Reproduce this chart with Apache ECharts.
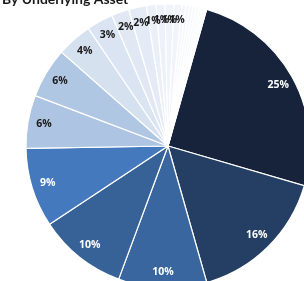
<!DOCTYPE html>
<html lang="en">
<head>
    <meta charset="UTF-8">
    <title>By Underlying Asset</title>
    <style>
        html, body { margin: 0; padding: 0; background: #fff; }
        #main { width: 304px; height: 281px; }
    </style>
    <script src="https://cdn.jsdelivr.net/npm/echarts@6/dist/echarts.min.js"></script>
</head>
<body>
    <div id="main"></div>
</body>
<script>
    // share of each underlying asset (clockwise, starting with the biggest)
    var assetNames = ['A1','A2','A3','A4','A5','A6','A7','A8','A9','A10','A11','A12','A13','A14','A15',
                      'A16','A17','A18','A19','A20','A21','A22','A23'];
    var assetShares = [25, 16, 10, 10, 9, 6, 5.7, 4, 3, 2, 2, 1.1, 1, 1, 0.9,
                       0.45, 0.4, 0.4, 0.35, 0.35, 0.3, 0.3, 0.25];
    var sliceColors = ['#16233a','#243f63','#39669e','#366298','#4579bd','#adc4e2','#b0c7e4',
                       '#d6e1f0','#dbe4f2','#e1e8f4','#e5ebf6','#eaeff8','#edf1f9','#eff3fa','#f1f4fa',
                       '#f3f6fb','#f4f7fb','#f5f8fc','#f6f8fc','#f7f9fd','#f8fafd','#f9fbfd','#fafbfe'];
    var darkLabel = [true, true, true, true, true];

    var mCharts = echarts.init(document.getElementById('main'));

    var sliceData = assetNames.map(function (n, i) {
        return { name: n, value: assetShares[i], itemStyle: { color: sliceColors[i] } };
    });
    // transparent ring on top, only to put the labels near the rim
    var labelData = assetNames.map(function (n, i) {
        return {
            name: n, value: assetShares[i],
            label: { color: darkLabel[i] ? '#ffffff' : '#1a1a1a' }
        };
    });

    var option = {
        animation: false,
        title: {
            text: 'By Underlying Asset',
            left: -3,
            top: -13,
            textStyle: { fontFamily: 'Lato', fontWeight: 'bold', fontSize: 14, color: '#1a1a1a' }
        },
        series: [
            {
                type: 'pie',
                center: [168, 146],
                radius: [0, 142],
                startAngle: 74.2,
                clockwise: true,
                silent: true,
                label: { show: false },
                labelLine: { show: false },
                itemStyle: { borderColor: '#ffffff', borderWidth: 1.2 },
                data: sliceData
            },
            {
                type: 'pie',
                center: [168, 146],
                radius: [104, 142],
                startAngle: 74.2,
                clockwise: true,
                silent: true,
                itemStyle: { color: 'rgba(0,0,0,0)' },
                labelLine: { show: false },
                labelLayout: { hideOverlap: false },
                label: {
                    show: true,
                    position: 'inside',
                    fontFamily: 'Open Sans',
                    fontWeight: 'bold',
                    fontSize: 10.5,
                    formatter: function (p) {
                        var v = Math.round(p.percent);
                        return v >= 1 ? v + '%' : '';
                    }
                },
                data: labelData
            }
        ]
    };
    mCharts.setOption(option);
</script>
</html>
